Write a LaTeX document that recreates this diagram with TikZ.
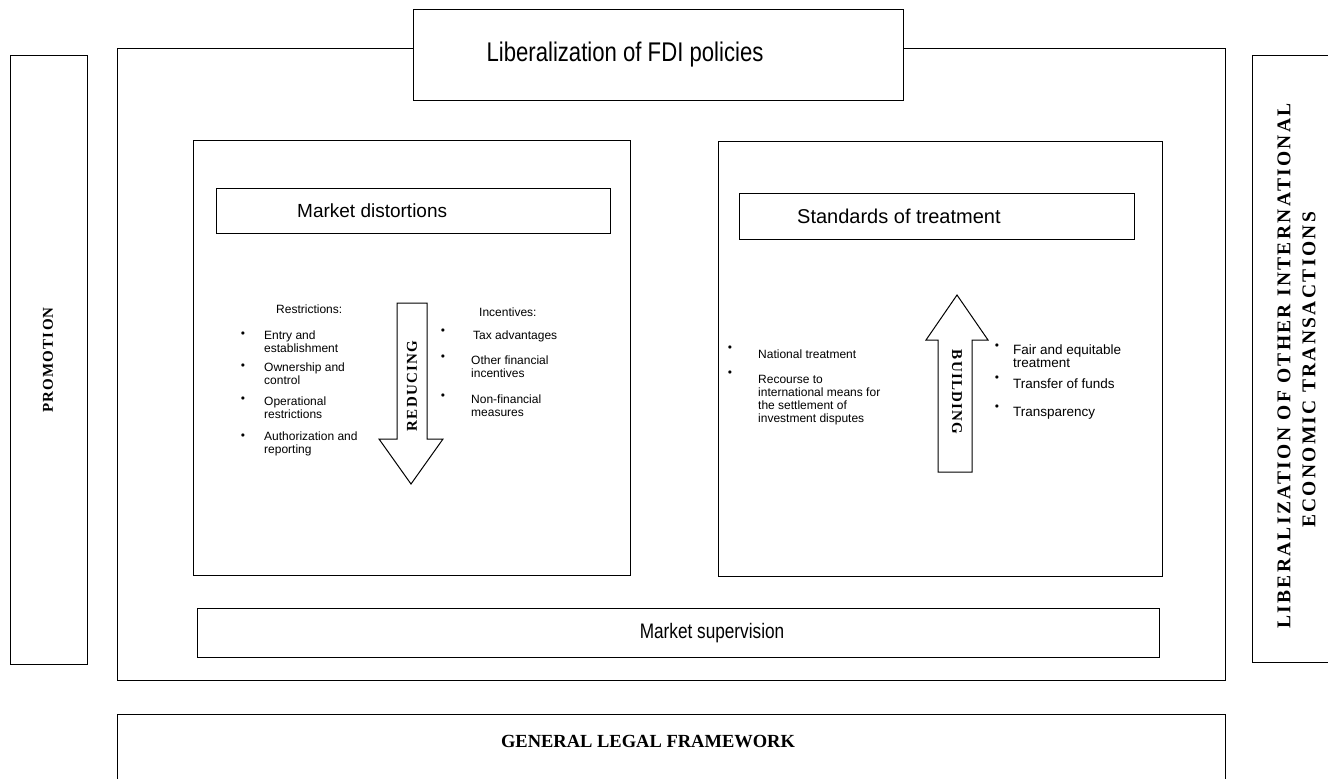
\documentclass[tikz,border=0pt]{standalone}
\usepackage{fontspec}
\setmainfont{Liberation Sans}
\newfontfamily\narrowsans{Liberation Sans}[FakeStretch=0.82]
\newfontfamily\capsserif{Liberation Serif}[LetterSpace=8]
\newfontfamily\plaincaps{Liberation Serif}
\newfontfamily\widecaps{Liberation Serif}[LetterSpace=12]
\usetikzlibrary{positioning}

\begin{document}
\begin{tikzpicture}[x=1pt, y=-1pt,
    box/.style={draw, line width=1pt, fill=white, inner sep=0pt},
    item/.style={anchor=west, align=left, inner sep=0pt, font=\fontsize{12}{13}\selectfont},
    bigitem/.style={item, font=\fontsize{13.5}{13}\selectfont},
    bullet/.style={inner sep=0pt, font=\fontsize{8}{8}\selectfont},
    vcaps/.style={inner sep=0pt, font=\capsserif\bfseries\fontsize{15}{15}\selectfont},
    bigarrow/.style={draw, line width=1pt, fill=white}]
    \useasboundingbox (0,0) rectangle (1328,779);

    % outer frames
    \node[box, fill=none, minimum width=1108, minimum height=632] (frame) at (671,364) {};
    \node[box, minimum width=490, minimum height=91] (fdi) at (658,54.5) {};
    \node[font=\narrowsans\fontsize{27}{27}\selectfont] (fditext) at (625,55) {Liberalization of FDI policies};

    \node[box, minimum width=77, minimum height=609] (promo) at (48.5,359.5) {};
    \node[vcaps, rotate=90] (promotext) at (48,360) {PROMOTION};

    \draw[line width=1pt] (1328,55) -| (1252,662) -- (1328,662);
    \node[inner sep=0pt, rotate=90, font=\widecaps\bfseries\fontsize{19.5}{19.5}\selectfont] (libtext) at (1284,366) {LIBERALIZATION OF OTHER INTERNATIONAL};
    \node[inner sep=0pt, rotate=90, font=\widecaps\bfseries\fontsize{19.5}{19.5}\selectfont] (ecotext) at (1309,370) {ECONOMIC TRANSACTIONS};

    % left panel
    \node[box, minimum width=437, minimum height=435] (distpanel) at (411.5,357.5) {};
    \node[box, minimum width=394, minimum height=45] (dist) at (413,210.5) {};
    \node[anchor=west, inner sep=0pt, font=\fontsize{19}{19}\selectfont] (disttext) at (297,211) {Market distortions};

    \node[item] (restr) at (276,309) {Restrictions:};
    \node[bullet] (b1) at (243,334) {$\bullet$};
    \node[item] (r1) at (264,342) {Entry and\\establishment};
    \node[bullet] (b2) at (243,366) {$\bullet$};
    \node[item] (r2) at (264,374) {Ownership and\\control};
    \node[bullet] (b3) at (243,399) {$\bullet$};
    \node[item] (r3) at (264,408) {Operational\\restrictions};
    \node[bullet] (b4) at (243,436) {$\bullet$};
    \node[item] (r4) at (264,444) {Authorization and\\reporting};

    \draw[bigarrow] (397,303) -- (427,303) -- (427,439) -- (443,439) -- (411,484) -- (379,439) -- (397,439) -- cycle;
    \node[vcaps, rotate=90] (reduce) at (412,386) {REDUCING};

    \node[item] (incent) at (479,312) {Incentives:};
    \node[bullet] (b5) at (443,331) {$\bullet$};
    \node[item] (i1) at (473,336) {Tax advantages};
    \node[bullet] (b6) at (443,357) {$\bullet$};
    \node[item] (i2) at (471,367) {Other financial\\incentives};
    \node[bullet] (b7) at (443,396) {$\bullet$};
    \node[item] (i3) at (471,406) {Non-financial\\measures};

    % right panel
    \node[box, minimum width=444, minimum height=435] (stdpanel) at (940,358.5) {};
    \node[box, minimum width=395, minimum height=46] (std) at (936.5,216) {};
    \node[anchor=west, inner sep=0pt, font=\fontsize{20}{20}\selectfont] (stdtext) at (797,216) {Standards of treatment};

    \node[bullet] (b8) at (730,348) {$\bullet$};
    \node[item] (s1) at (758,354) {National treatment};
    \node[bullet] (b9) at (730,373) {$\bullet$};
    \node[item] (s2) at (758,400) {Recourse to\\international means for\\the settlement of\\investment disputes};

    \draw[bigarrow] (938,472) -- (938,340) -- (926,340) -- (957,295) -- (988,340) -- (972,340) -- (972,472) -- cycle;
    \node[vcaps, rotate=-90] (build) at (957,392) {BUILDING};

    \node[bullet] (b10) at (997,346) {$\bullet$};
    \node[bigitem] (f1) at (1013,356) {Fair and equitable\\treatment};
    \node[bullet] (b11) at (997,378) {$\bullet$};
    \node[bigitem] (f2) at (1013,384) {Transfer of funds};
    \node[bullet] (b12) at (997,407) {$\bullet$};
    \node[bigitem] (f3) at (1013,413) {Transparency};

    % bottom
    \node[box, minimum width=962, minimum height=49] (superv) at (678,632.5) {};
    \node[font=\narrowsans\fontsize{21}{21}\selectfont] (supervtext) at (712,633) {Market supervision};

    \draw[line width=1pt] (117,779) |- (1225,714) -- (1225,779);
    \node[font=\plaincaps\bfseries\fontsize{18.5}{18.5}\selectfont] (legal) at (648,742) {GENERAL LEGAL FRAMEWORK};
\end{tikzpicture}
\end{document}
